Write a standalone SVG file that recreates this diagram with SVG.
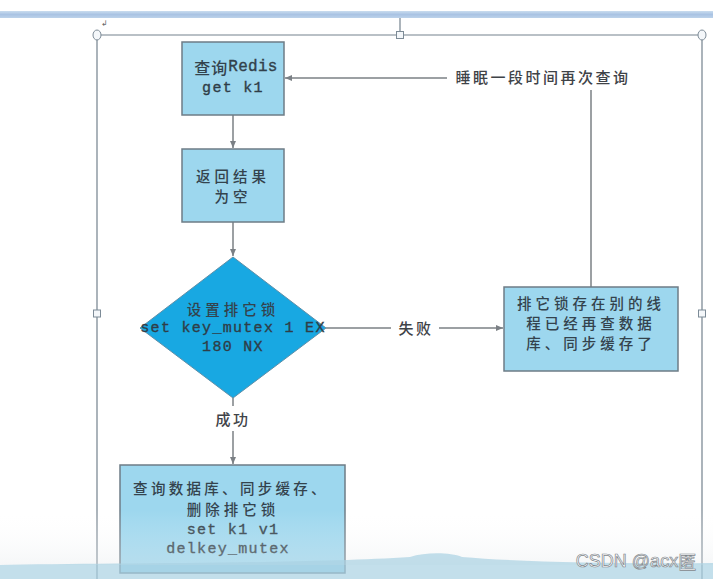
<svg xmlns="http://www.w3.org/2000/svg" width="713" height="579" viewBox="0 0 713 579">
<defs>
<style>
.box{fill:#9dd7ee;stroke:#6e7c86;stroke-width:1.5}
.dia{fill:#18a8e2;stroke:#5f8fa8;stroke-width:1}
.cn{fill:none;stroke:#7b8085;stroke-width:1.5}
.cjk{font-family:"Noto Sans CJK SC","Noto Sans",sans-serif;font-size:14.5px;font-weight:500;fill:#34434d;text-anchor:middle;dominant-baseline:central;letter-spacing:4px}
.mono{font-family:"Liberation Mono","DejaVu Sans Mono",monospace;font-size:15px;fill:#2f3d47;stroke:#2f3d47;stroke-width:0.35;text-anchor:middle;dominant-baseline:central;letter-spacing:1.3px}
.lbl{font-family:"Noto Sans CJK SC","Noto Sans",sans-serif;font-size:15px;font-weight:500;fill:#3f4348;text-anchor:middle;dominant-baseline:central;letter-spacing:2.5px}
.frame{fill:none;stroke:#74828e;stroke-width:1.2}
.hd{fill:#f4f7fa;stroke:#7d8b97;stroke-width:1}
</style>
<marker id="ah" markerWidth="8" markerHeight="8" refX="7" refY="4" orient="auto" markerUnits="userSpaceOnUse">
<path d="M0,1 L7,4 L0,7 Z" fill="#7b8085"/>
</marker>
<linearGradient id="topbar" x1="0" y1="0" x2="0" y2="1">
<stop offset="0" stop-color="#c9dcef"/>
<stop offset="0.5" stop-color="#a9c3e3"/>
<stop offset="1" stop-color="#bcd2ea"/>
</linearGradient>
<linearGradient id="fade" x1="0" y1="0" x2="0" y2="1">
<stop offset="0" stop-color="#ffffff" stop-opacity="0"/>
<stop offset="1" stop-color="#e4e8eb" stop-opacity="0.35"/>
</linearGradient>
</defs>
<rect width="713" height="579" fill="#ffffff"/>
<rect x="0" y="11" width="713" height="7" fill="url(#topbar)"/>
<line x1="400" y1="18" x2="400" y2="35" class="frame"/>
<text x="101" y="26" font-family="DejaVu Sans,sans-serif" font-size="8" fill="#666">↲</text>
<path class="frame" d="M97,35 H702 M97,35 V579 M702,35 V579"/>
<ellipse class="hd" cx="97" cy="35" rx="4" ry="5"/>
<rect class="hd" x="396.5" y="31.5" width="7" height="7"/>
<ellipse class="hd" cx="702" cy="35" rx="4" ry="5"/>
<rect class="hd" x="93.5" y="310" width="7" height="7"/>
<rect class="hd" x="698.5" y="310" width="7" height="7"/>

<g id="connectors">
<line class="cn" x1="233" y1="115" x2="233" y2="148" marker-end="url(#ah)"/>
<line class="cn" x1="233" y1="222" x2="233" y2="256" marker-end="url(#ah)"/>
<line class="cn" x1="326" y1="328" x2="391" y2="328"/>
<line class="cn" x1="439" y1="328" x2="503" y2="328" marker-end="url(#ah)"/>
<line class="cn" x1="233" y1="398" x2="233" y2="406"/>
<line class="cn" x1="233" y1="431" x2="233" y2="464" marker-end="url(#ah)"/>
<line class="cn" x1="591" y1="287" x2="591" y2="90"/>
<line class="cn" x1="447" y1="78" x2="285" y2="78" marker-end="url(#ah)"/>
<text class="lbl" x="416" y="327">失败</text>
<text class="lbl" x="233" y="418">成功</text>
<text class="lbl" x="543" y="76">睡眠一段时间再次查询</text>
</g>

<g id="n1">
<rect class="box" x="182" y="42" width="102" height="73"/>
<text class="cjk" x="236" y="67" style="letter-spacing:1px;font-size:16px">查询<tspan font-family="Liberation Mono,monospace" stroke="#2f3d47" stroke-width="0.35" style="letter-spacing:0.3px;font-size:16px">Redis</tspan></text>
<text class="mono" x="233" y="88">get k1</text>
</g>
<g id="n2">
<rect class="box" x="182" y="149" width="102" height="73"/>
<text class="cjk" x="233" y="175">返回结果</text>
<text class="cjk" x="233" y="195">为空</text>
</g>
<g id="n3">
<polygon class="dia" points="233,257 326,328 233,398 140,328"/>
<text class="cjk" x="233" y="308">设置排它锁</text>
<text class="mono" x="233" y="328">set key_mutex 1 EX</text>
<text class="mono" x="233" y="347">180 NX</text>
</g>
<g id="n4">
<rect class="box" x="504" y="287" width="174" height="84"/>
<text class="cjk" x="591" y="302">排它锁存在别的线</text>
<text class="cjk" x="591" y="322">程已经再查数据</text>
<text class="cjk" x="591" y="342">库、同步缓存了</text>
</g>
<g id="n5">
<rect class="box" x="120" y="465" width="225" height="108"/>
<text class="cjk" x="231" y="487" style="letter-spacing:3.3px">查询数据库、同步缓存、</text>
<text class="cjk" x="233" y="508">删除排它锁</text>
<text class="mono" x="233" y="530">set k1 v1</text>
<text class="mono" x="228" y="549">delkey_mutex</text>
</g>

<rect x="0" y="510" width="713" height="55" fill="url(#fade)"/>
<path d="M0,565 C100,563 300,564 410,557 C425,552 450,552 462,557 C520,562 620,564 713,563 V579 H0 Z" fill="#a9d2e2" opacity="0.7"/>
<text x="636" y="561" font-family="Liberation Sans,Arial,sans-serif" font-size="18" fill="#ffffff" stroke="#7f868c" stroke-width="0.7" text-anchor="middle" dominant-baseline="central">CSDN @acx<tspan font-family="Noto Sans CJK SC,sans-serif">匿</tspan></text>
</svg>
